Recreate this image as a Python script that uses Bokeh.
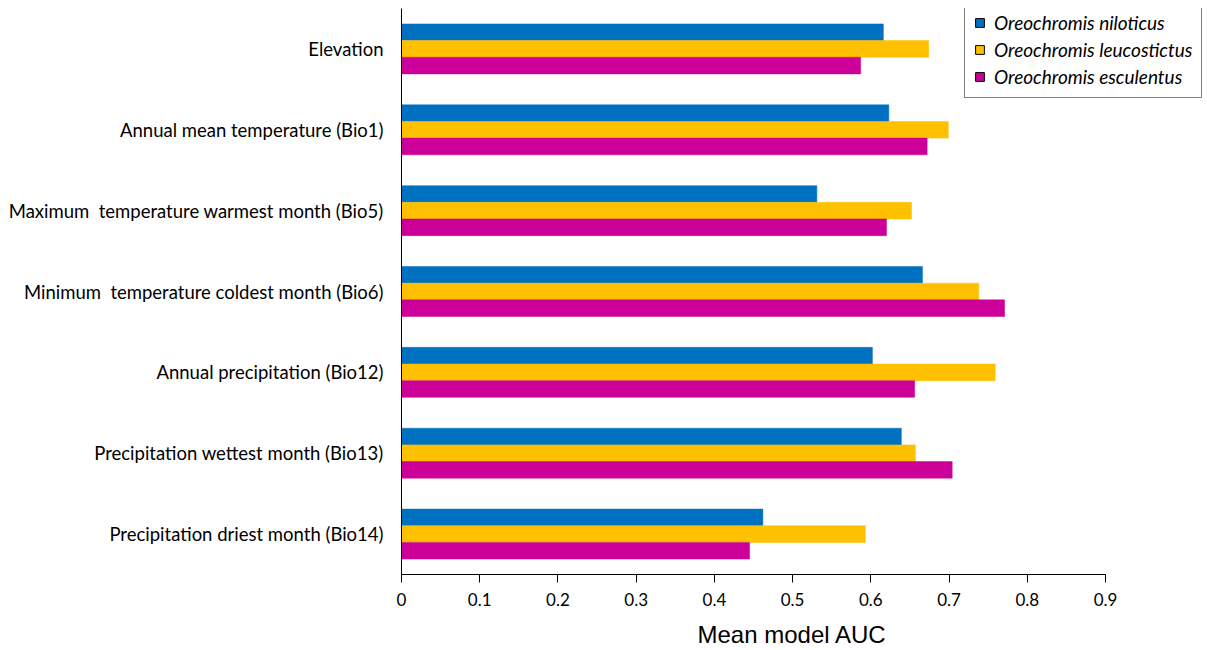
from bokeh.plotting import figure
from bokeh.models import (ColumnDataSource, Range1d, FactorRange, FixedTicker,
                          Legend, LegendItem, Title)
from bokeh.transform import dodge
from bokeh.embed import file_html
from bokeh.resources import INLINE

categories = [
    "Elevation",
    "Annual mean temperature (Bio1)",
    "Maximum\u00a0 temperature warmest month (Bio5)",
    "Minimum\u00a0 temperature coldest month (Bio6)",
    "Annual precipitation (Bio12)",
    "Precipitation wettest month (Bio13)",
    "Precipitation driest month (Bio14)",
]
niloticus = [0.616, 0.623, 0.531, 0.666, 0.602, 0.639, 0.462]
leucostictus = [0.674, 0.699, 0.652, 0.738, 0.759, 0.657, 0.593]
esculentus = [0.587, 0.672, 0.620, 0.771, 0.656, 0.704, 0.445]
series_names = ["Oreochromis niloticus", "Oreochromis leucostictus", "Oreochromis esculentus"]
series_colors = ["#0070C0", "#FFC000", "#CC0099"]
x_ticks = [0, 0.1, 0.2, 0.3, 0.4, 0.5, 0.6, 0.7, 0.8, 0.9]
x_axis_max = 0.9

FONT = "Lato"

source = ColumnDataSource(dict(cat=categories, nil=niloticus, leu=leucostictus, esc=esculentus))

# frame extends to the right past 0.9 so the legend fits inside it
px_per_unit = 704 / x_axis_max
frame_w = 804
p = figure(
    y_range=FactorRange(*categories[::-1]),
    x_range=Range1d(0, frame_w / px_per_unit),
    frame_width=frame_w, frame_height=566,
    min_border_left=401, min_border_right=0, min_border_top=8, min_border_bottom=0,
    output_backend="svg", toolbar_location=None,
)

bh = 0.206
offsets = [bh, 0.0, -bh]
for col, off, c in zip(["nil", "leu", "esc"], offsets, series_colors):
    p.hbar(y=dodge("cat", off, range=p.y_range), left=0, right=col, height=bh,
           source=source, fill_color=c, line_color=c, line_width=0.5)

# legend proxies (black outline squares), placed outside the visible x range
items = []
for name, c in zip(series_names, series_colors):
    r = p.hbar(y=[categories[0]], left=[-1.0], right=[-0.5], height=bh,
               fill_color=c, line_color="black", line_width=1)
    items.append(LegendItem(label=name, renderers=[r]))

legend = Legend(items=items, location=(563, 476), border_line_color="black",
                border_line_width=1, background_fill_color="white", background_fill_alpha=1,
                padding=9, margin=0, spacing=4, label_height=20, label_standoff=9,
                glyph_width=11, glyph_height=11, label_text_font=FONT,
                label_text_font_style="italic", label_text_font_size="19px",
                label_text_color="black")
p.add_layout(legend)

p.grid.visible = False
p.outline_line_color = None

p.yaxis.major_tick_line_color = None
p.yaxis.minor_tick_line_color = None
p.yaxis.major_tick_out = 0
p.yaxis.major_tick_in = 0
p.yaxis.major_label_standoff = 18
p.yaxis.major_label_text_font = FONT
p.yaxis.major_label_text_font_size = "18.5px"
p.yaxis.major_label_text_color = "black"
p.yaxis.axis_line_color = "black"

p.xaxis.ticker = FixedTicker(ticks=x_ticks)
p.xaxis.bounds = (0, x_axis_max)
p.xaxis.major_label_overrides = {0: "0"}
p.xaxis.major_tick_in = 0
p.xaxis.major_tick_out = 8
p.xaxis.minor_tick_line_color = None
p.xaxis.major_tick_line_color = "black"
p.xaxis.axis_line_color = "black"
p.xaxis.major_label_standoff = 10
p.xaxis.major_label_text_font = FONT
p.xaxis.major_label_text_font_size = "17px"
p.xaxis.major_label_text_color = "black"

t = Title(text="Mean model AUC", align="left", offset=296, text_font="Liberation Sans",
          text_font_size="24px", text_font_style="normal", text_color="black", standoff=20)
p.add_layout(t, "below")

open("out.html", "w").write(file_html(p, INLINE))
